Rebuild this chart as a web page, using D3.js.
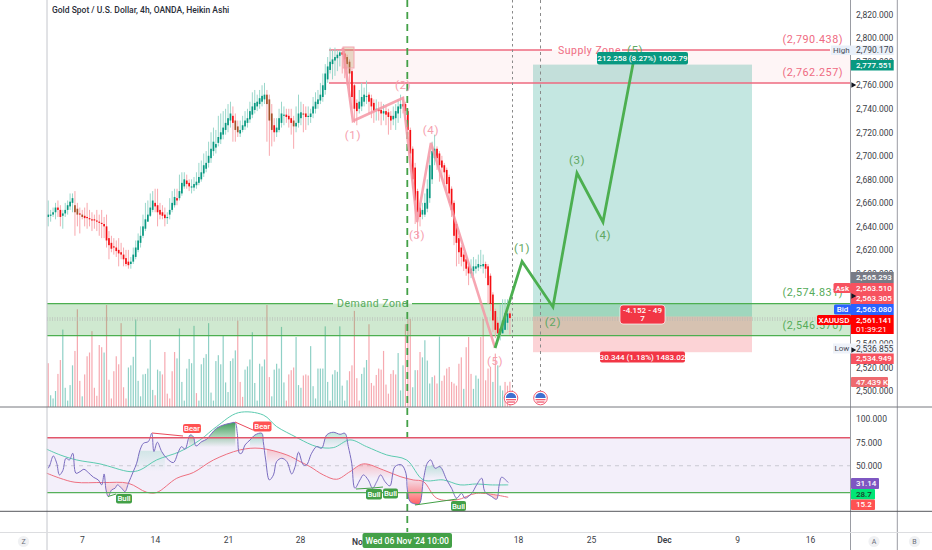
<!DOCTYPE html>
<html>
<head>
<meta charset="utf-8">
<script src="https://cdnjs.cloudflare.com/ajax/libs/d3/7.8.5/d3.min.js"></script>
<style>
html, body { margin:0; padding:0; background:#fff; overflow:hidden; }
svg { display:block; font-family:Roboto, Inter, "Noto Sans", sans-serif; }
.tick line, .domain { display:none; }
</style>
</head>
<body>
<svg id="chart" width="932" height="550"></svg>
<script>
// Heikin Ashi candles, one value per 4h bar
var candleOpen = [
	2648,2649,2650,2652,2656,2654,2649,2651,2654,2657,
	2660,2658,2655,2651,2650,2649,2648,2647,2646,2646,
	2645,2644,2643,2642,2640,2630,2626,2623,2622,2620,
	2618,2616,2613,2610,2608,2610,2614,2620,2626,2632,
	2638,2644,2649,2654,2660,2658,2654,2652,2650,2647,
	2650,2654,2658,2664,2664,2668,2674,2679,2677,2673,
	2673,2675,2677,2680,2685,2689,2694,2698,2704,2707,
	2711,2714,2718,2722,2726,2730,2734,2730,2725,2719,
	2722,2725,2728,2731,2735,2739,2742,2744,2746,2748,
	2752,2748,2736,2726,2720,2722,2728,2734,2735,2734,
	2732,2730,2725,2728,2732,2736,2736,2733,2733,2736,
	2740,2744,2747,2750,2756,2765,2773,2778,2781,2783,
	2785,2788,2787,2784,2780,2772,2760,2745,2740,2742,
	2746,2750,2752,2749,2745,2740,2740,2739,2736,2738,
	2737,2734,2731,2732,2736,2740,2744,2744,2738,2722,
	2706,2690,2670,2656,2650,2650,2655,2664,2680,2698,
	2706,2702,2696,2692,2688,2682,2672,2660,2642,2630,
	2622,2616,2612,2606,2600,2602,2604,2605,2607,2606,
	2608,2606,2598,2582,2568,2558,2548,2549,2552,2558,
	2566]
var candleClose = [
	2650,2650,2652,2656,2654,2648,2651,2654,2658,2661,
	2664,2652,2650,2650,2648,2647,2647,2646,2645,2645,
	2644,2643,2642,2640,2628,2624,2621,2622,2619,2617,
	2616,2612,2608,2607,2610,2616,2622,2628,2632,2640,
	2646,2650,2656,2662,2657,2652,2650,2649,2647,2648,
	2654,2660,2665,2662,2670,2677,2680,2676,2674,2674,
	2676,2678,2682,2686,2692,2694,2700,2706,2712,2710,
	2716,2720,2724,2728,2732,2736,2728,2722,2720,2722,
	2726,2730,2732,2738,2742,2745,2746,2749,2751,2752,
	2744,2730,2722,2720,2724,2732,2736,2735,2733,2731,
	2728,2725,2728,2736,2737,2735,2733,2734,2736,2742,
	2746,2748,2752,2760,2770,2776,2780,2782,2784,2786,
	2788,2786,2782,2778,2770,2750,2740,2738,2746,2750,
	2752,2751,2746,2742,2738,2740,2738,2736,2738,2735,
	2733,2730,2734,2738,2742,2744,2742,2738,2722,2702,
	2680,2662,2652,2648,2654,2660,2672,2692,2704,2706,
	2698,2692,2690,2686,2676,2668,2654,2632,2626,2618,
	2614,2610,2604,2600,2604,2606,2606,2608,2607,2608,
	2604,2590,2574,2560,2552,2549,2553,2560,2566,2566,
	2562]
var candleHigh = [
	2662,2654,2656,2660,2662,2658,2654,2660,2662,2668,
	2668,2670,2660,2656,2654,2656,2660,2654,2652,2650,
	2654,2650,2654,2648,2650,2636,2632,2630,2628,2630,
	2626,2622,2620,2620,2614,2622,2628,2634,2640,2650,
	2660,2662,2668,2670,2672,2672,2660,2658,2656,2652,
	2664,2670,2672,2672,2684,2686,2686,2684,2680,2680,
	2682,2686,2694,2696,2702,2704,2712,2720,2724,2722,
	2734,2736,2738,2740,2744,2746,2742,2736,2730,2730,
	2734,2738,2740,2746,2754,2756,2752,2756,2760,2762,
	2756,2752,2744,2732,2732,2740,2746,2742,2740,2740,
	2740,2734,2742,2752,2746,2744,2742,2742,2740,2750,
	2754,2756,2762,2770,2778,2784,2792,2790,2792,2790,
	2790,2792,2790,2786,2782,2774,2762,2748,2756,2762,
	2758,2764,2754,2752,2748,2748,2746,2746,2744,2742,
	2740,2738,2742,2744,2748,2752,2750,2746,2740,2724,
	2708,2694,2672,2658,2660,2668,2680,2700,2712,2718,
	2708,2704,2700,2694,2690,2684,2674,2662,2644,2632,
	2624,2618,2614,2608,2612,2614,2612,2616,2620,2616,
	2610,2608,2600,2584,2570,2560,2574,2578,2578,2578,
	2568]
var candleLow = [
	2640,2644,2648,2646,2648,2640,2638,2648,2650,2654,
	2652,2632,2640,2634,2646,2640,2638,2640,2636,2638,
	2636,2632,2630,2630,2622,2612,2618,2616,2614,2606,
	2612,2606,2606,2604,2604,2608,2612,2618,2622,2630,
	2636,2644,2648,2652,2652,2640,2646,2646,2640,2642,
	2646,2652,2656,2658,2662,2666,2672,2672,2670,2668,
	2670,2672,2675,2678,2682,2686,2690,2694,2700,2702,
	2708,2710,2714,2718,2720,2724,2712,2712,2716,2716,
	2720,2722,2724,2728,2732,2736,2738,2740,2742,2744,
	2712,2700,2708,2712,2716,2720,2724,2726,2728,2724,
	2718,2706,2720,2724,2726,2720,2722,2726,2728,2732,
	2736,2740,2744,2746,2752,2762,2770,2765,2768,2772,
	2776,2770,2766,2760,2750,2740,2728,2726,2736,2738,
	2742,2744,2736,2732,2728,2730,2730,2726,2730,2726,
	2718,2722,2726,2722,2728,2732,2736,2730,2718,2698,
	2672,2642,2630,2640,2646,2648,2652,2660,2676,2692,
	2688,2678,2680,2676,2670,2660,2648,2624,2606,2608,
	2606,2602,2598,2590,2596,2598,2600,2602,2604,2600,
	2596,2574,2568,2550,2545,2549,2543,2549,2552,2552,
	2548]
var brownBars = [11,12,14,77,78,90,91,92,101,105,123,124]

// Volume in thousands, and 1 for a teal bar, 0 for a red one
var volumeK = [
	82,22,16,30,62,88,145,36,12,41,
	78,105,183,49,20,61,95,102,142,36,
	21,116,112,102,191,51,16,67,95,80,
	157,37,16,74,78,94,164,49,20,61,
	62,72,126,32,22,70,67,61,103,25,
	16,67,103,91,147,47,12,72,90,82,
	152,26,12,80,92,99,157,27,12,86,
	97,80,134,46,28,86,91,106,162,47,
	19,70,76,89,140,45,12,81,76,89,
	191,56,20,70,81,72,150,46,12,61,
	69,74,131,41,36,59,61,59,114,39,
	16,72,72,72,151,47,12,61,69,66,
	151,40,12,50,67,78,180,54,12,62,
	74,88,155,45,40,60,72,70,105,42,
	25,62,69,61,101,
	31,78,155,165,165,37,69,69,103,93,
	125,87,44,56,59,44,132,49,59,72,
	75,47,44,40,81,93,34,112,131,62,
	34,59,53,131,165,50,72,75,47,100,
	78,40,31,47,40,47.4]
var volumeUp = [
	0,1,1,1,0,0,1,1,1,1,
	1,0,0,0,1,0,0,0,0,0,
	0,0,0,1,0,0,0,0,0,0,
	0,0,0,1,1,1,1,1,1,1,
	1,1,1,1,0,1,1,0,0,0,
	0,0,0,1,1,1,1,1,1,1,
	1,0,1,1,1,1,1,1,1,1,
	1,1,1,1,1,1,1,1,0,0,
	0,1,1,1,1,1,1,1,1,1,
	0,0,1,1,1,1,1,1,0,0,
	0,0,1,1,1,0,0,0,1,1,
	1,1,1,1,1,1,1,1,1,1,
	1,1,1,1,0,0,0,0,0,1,
	1,1,0,0,0,0,0,0,0,0,
	0,0,0,0,1,
	1,1,0,0,0,1,1,0,0,1,
	1,1,1,1,0,0,1,0,0,0,
	0,0,0,0,0,0,1,0,0,0,
	1,1,1,0,0,0,0,0,1,0,
	1,1,1,0,0,0]

// RSI pane, as bar positions and values
var rsiBars = [0,0.7,2.1,3.5,4.6,6,7.3,8.7,10.1,11.4,13.1,14.7,16.5,18.6,20.6,22,23,23.8,24.7,26.1,27.5,28.5,30.2,31.6,33,35,36.4,37.8,39.2,41.2,42.6,43.5,44.9,46.7,48.8,51.5,53.6,54.9,56.3,58.4,59.7,60.8,63.2,65.2,67.3,69.3,72.1,74.8,76.9,77.8,78.7,79.6,81,83.1,85.1,87.9,88.5,89.5,91,92.7,94,96.1,98.2,100.2,101.6,103,105,106.3,108.4,110.5,112.5,114.6,117.3,120.1,122.1,123.5,124.9,126.2,128.3,129.7,131.7,133.5,135.2,136.8,138.6,140.6,142.7,145.4,147.2,147.8,148.9,150.9,152.7,154.4,156,157.4,159.2,161.2,164,166,168.1,170.1,171.5,174.3,176.3,178.4,179.7,182.5,184.5,185.6,186.6,189.3]
var rsiValues = [47.3,50.9,60.5,52.7,40.2,44.8,58,56.2,63.4,42,43.7,46.2,42.7,37.7,34.8,29.5,41.2,24.1,17,24.1,25.9,29.5,25.9,22.3,31.2,43.7,52.7,67,74.1,75.9,84.8,65.2,75.2,65.2,58,53.4,65.2,70.5,67.7,83,81.2,71.2,75.9,78.4,84.8,90.2,93.7,95.5,96.2,84.8,63.4,63.4,72.3,77.7,83,84.8,75.9,56.2,34.8,40.2,54.5,58,54.5,41.2,49.1,64.5,50.9,50.9,63.4,70.5,68.7,83,85.9,83.7,84.8,70.5,52.7,25.9,34.8,40.2,34.8,25.9,33,40.2,33,28.4,49.1,50.9,42,24.1,11.6,9.1,9.1,34.8,52.7,56.2,47.3,49.1,34.8,25.9,15.2,20.5,15.2,20.5,29.5,36.6,22.3,17,14.1,29.5,37.7,32]
var fastBars = [-0.6,4.9,11.7,21.3,33.7,37.8,44.6,54.2,62.5,69.3,78.3,88.5,94,101.6,103.6,110.5,117.3,124.2,131,139.3,147.5,154.4,162.6,169.5,176.3,181.8,189.3]
var fastValues = [67.7,61.6,56.2,52,43.7,45.5,56.2,65.2,77.7,92,106.9,104.4,92,81.2,78.4,70.5,69.4,77.7,70.5,61.6,56.2,34.8,34.8,29.5,30.5,29.5,29.5]
var slowBars = [-0.6,4.9,11,22.7,33,40.5,44.6,52.9,59.7,68,79,87.2,98.2,103.6,107.7,113.2,118.7,124.2,129.7,137.9,144.8,150.2,154.4,159.9,168.1,176.3,189.3]
var slowValues = [42,36.6,32.3,32,31.2,21.6,21.3,36.6,42.7,56.2,67,68.7,61.6,54.5,49.1,40.2,35.5,43.7,52,45.5,38.4,34.8,33,15.2,13.4,20.5,16.2]

// Shaded stretches of the RSI pane: bar range, value range, strongest opacity
var greenStart = [35, 58, 83, 112, 155]
var greenEnd = [48, 77, 89, 124, 165]
var greenTop = [66, 97, 86, 87, 50]
var greenFloor = [44, 70, 70, 70, 36]
var greenOpacity = [0.2, 0.85, 0.55, 0.4, 0.3]
var redStart = [22.7, 90, 125, 148, 167, 180]
var redEnd = [32.5, 101.6, 146, 155, 175, 186]
var redTop = [32, 69, 53, 36, 22, 30]
var redFloor = [18, 52, 36, 8, 13, 13]
var redOpacity = [0.22, 0.28, 0.28, 0.9, 0.3, 0.35]
var redStrongAtFloor = [1, 0, 0, 1, 1, 1]

// Drawn wave counts
var sellWaveBars = [121.3,125.4,146,151.8,157.5,183.9]
var sellWavePrices = [2791.7,2729.6,2749.2,2643.7,2710.9,2536.6]
var sellWaveLabels = ['(1)','(2)','(3)','(4)','(5)']
var buyWaveBars = [183.9,195,207.7,217.6,228.3,241.5]
var buyWavePrices = [2536.6,2610.2,2571.5,2685.4,2643.7,2787.4]
var buyWaveLabels = ['(1)','(2)','(3)','(4)','(5)']

// Axis labels
var priceTicks = [2820,2800,2780,2760,2740,2720,2700,2680,2660,2640,2620,2600,2540,2520,2500]
var rsiTicks = [100,75,50]
var timeTickBars = [13.9,43.9,74,103.6,193.3,223.4,253.4,283.5,313.5]
var timeTickLabels = ['7','14','21','28','18','25','Dec','9','16']

var width = 932, plotLeft = 47, plotRight = 850.5, barStep = 2.43
var axisFont = 8.5, tagFont = 8
var svg = d3.select('#chart')

var x = d3.scaleLinear().domain([0, 1]).range([plotLeft + barStep / 2, plotLeft + barStep * 1.5])
var y = d3.scaleLinear().domain([2500, 2820]).range([391, 14.7])
var yVolume = d3.scaleLinear().domain([0, 191]).range([407, 305])
var yRsi = d3.scaleLinear().domain([0, 100]).range([512.4, 419.1])

var barIndex = d3.range(candleClose.length)

function addRect(x1, y1, x2, y2, fill) {
	return svg.append('rect').attr('x', x1).attr('y', y1)
		.attr('width', x2 - x1).attr('height', y2 - y1).attr('fill', fill)
}
function addLine(x1, y1, x2, y2, stroke, sw, dash) {
	return svg.append('line').attr('x1', x1).attr('y1', y1).attr('x2', x2).attr('y2', y2)
		.attr('stroke', stroke).attr('stroke-width', sw).attr('stroke-dasharray', dash || null)
}
function addText(tx, ty, str, fill, size, anchor, weight) {
	return svg.append('text').attr('x', tx).attr('y', ty).text(str)
		.attr('fill', fill).attr('font-size', size)
		.attr('text-anchor', anchor || 'start').attr('font-weight', weight || 400)
		.attr('dominant-baseline', 'central')
}
function addTag(x1, y1, x2, y2, fill, label, color, size) {
	addRect(x1, y1, x2, y2, fill).attr('rx', 2)
	return addText((x1 + x2) / 2, (y1 + y2) / 2, label, color || '#fff', size || tagFont, 'middle', 500)
}

// Volume
svg.append('g').selectAll('rect').data(volumeK).enter().append('rect')
	.attr('x', function(d, i) {return x(i) - 0.6})
	.attr('y', function(d) {return yVolume(d)})
	.attr('width', 1.2)
	.attr('height', function(d) {return 407 - yVolume(d)})
	.attr('fill', function(d, i) {return volumeUp[i] ? '#8fd0c6' : '#f6a9b0'})

// Zones
var demandTop = y(2574.831) + 0.6, demandBottom = y(2546.57) - 0.6
addRect(329, 50, plotRight, 83, 'rgba(242,54,69,0.05)')
addRect(plotLeft, demandTop, plotRight, demandBottom, 'rgba(76,175,80,0.27)')

// Long position box
var longLeft = 533, longRight = 752
addRect(longLeft, y(2777.551), longRight, y(2563.3), 'rgba(8,153,129,0.24)')
addRect(longLeft, y(2563.3), longRight, y(2533), 'rgba(242,54,69,0.22)')

// Level lines
addLine(plotLeft, 318, plotRight, 318, '#b5b5b5', 1, '1 1.5')
addLine(plotLeft, 320, plotRight, 320, '#b5b5b5', 1, '1 1.5')
addLine(329, 50, 552, 50, '#ee6a7f', 1.3)
addLine(622, 50, 830, 50, '#ee6a7f', 1.3)
addLine(329, 83, plotRight, 83, '#ee6a7f', 1.3)
addLine(plotLeft, demandTop, 333, demandTop, '#4caf50', 1.3)
addLine(412, demandTop, plotRight, demandTop, '#4caf50', 1.3)
addLine(plotLeft, demandBottom, plotRight, demandBottom, '#4caf50', 1.3)

addText(558, 50, 'Supply Zone', '#ef6b82', 10.5).attr('letter-spacing', 0.5)
addText(337, 303, 'Demand Zone', '#56ab5a', 10.5).attr('letter-spacing', 0.5)
addText(843, 39, '(2,790.438)', '#ef6b82', 10.8, 'end').attr('letter-spacing', 0.5)
addText(843, 72, '(2,762.257)', '#ef6b82', 10.8, 'end').attr('letter-spacing', 0.5)
addText(843, 292, '(2,574.831)', '#56ab5a', 10.8, 'end').attr('letter-spacing', 0.5)
addText(843, 325.5, '(2,546.570)', '#56ab5a', 10.8, 'end').attr('letter-spacing', 0.5)

// Candles
var isBrown = {}
brownBars.map(function(b) {isBrown[b] = true})
function isUp(i) {return candleClose[i] >= candleOpen[i]}

svg.append('g').selectAll('line').data(barIndex).enter().append('line')
	.attr('x1', function(i) {return x(i)}).attr('x2', function(i) {return x(i)})
	.attr('y1', function(i) {return y(candleHigh[i])}).attr('y2', function(i) {return y(candleLow[i])})
	.attr('stroke', function(i) {return isUp(i) ? '#9ad7cb' : '#f8a8ae'})
	.attr('stroke-width', 1)

svg.append('g').selectAll('rect').data(barIndex).enter().append('rect')
	.attr('x', function(i) {return x(i) - 0.85})
	.attr('width', 1.7)
	.attr('y', function(i) {return y(Math.max(candleOpen[i], candleClose[i]))})
	.attr('height', function(i) {return Math.max(1, Math.abs(y(candleOpen[i]) - y(candleClose[i])))})
	.attr('fill', function(i) {
		if(isBrown[i]) return '#a5522a'
		return isUp(i) ? '#089981' : '#f50f14'
	})

// Peak marker box
addRect(343, 47, 354, 68, 'rgba(190,150,90,0.32)').attr('stroke', '#f3a6b0').attr('stroke-width', 1)

// Event lines
addLine(407.3, 0, 407.3, 532, '#43a047', 1.8, '7 5')
addLine(512.5, 0, 512.5, 392, '#8a8a8a', 1, '2.5 3')
addLine(540.5, 0, 540.5, 392, '#8a8a8a', 1, '3 3.5')

// Wave counts
var waveLine = d3.line()
	.x(function(d) {return x(d[0])})
	.y(function(d) {return y(d[1])})

svg.append('path').attr('d', waveLine(d3.zip(sellWaveBars, sellWavePrices)))
	.attr('fill', 'none').attr('stroke', 'rgba(245,150,165,0.85)').attr('stroke-width', 2.6)
var sellLabelDy = [14, -13, 13, -13, 13]
sellWaveLabels.map(function(t, i) {
	addText(x(sellWaveBars[i + 1]), y(sellWavePrices[i + 1]) + sellLabelDy[i], t, '#f6a0ae', 11.5, 'middle').attr('letter-spacing', 0.6)
})

svg.append('path').attr('d', waveLine(d3.zip(buyWaveBars, buyWavePrices)))
	.attr('fill', 'none').attr('stroke', '#4caf50').attr('stroke-width', 2.8)
var buyLabelDy = [-13, 15, -13, 13, -3]
buyWaveLabels.map(function(t, i) {
	addText(x(buyWaveBars[i + 1]), y(buyWavePrices[i + 1]) + buyLabelDy[i], t, '#5fa863', 11.5, 'middle').attr('letter-spacing', 0.6)
})

// Position labels
addTag(597, 52, 688, 64.5, '#089981', '212.258 (8.27%) 1602.79')
addRect(620, 305, 665, 324, '#f23645').attr('rx', 3).attr('stroke', '#fff').attr('stroke-width', 0.7)
addText(642.5, 310.5, '-4.152 - 49', '#fff', tagFont, 'middle', 500)
addText(642.5, 318.5, '7', '#fff', tagFont, 'middle', 500)
addTag(600, 351.5, 685, 362.5, '#f23645', '30.344 (1.18%) 1483.02')

// Economic event flags
;[511, 540.5].map(function(fx) {
	var g = svg.append('g').attr('transform', 'translate(' + fx + ',398)')
	g.append('circle').attr('r', 6.8).attr('fill', '#fff').attr('stroke', '#f25c72').attr('stroke-width', 1)
	g.append('path').attr('d', d3.arc()({innerRadius:0, outerRadius:5.2, startAngle:-Math.PI / 2, endAngle:Math.PI / 2})).attr('fill', '#3f6fd1')
	g.append('rect').attr('x', -5).attr('y', 1).attr('width', 10).attr('height', 1.3).attr('fill', '#f25c72')
	g.append('rect').attr('x', -4).attr('y', 3.4).attr('width', 8).attr('height', 1.3).attr('fill', '#f25c72')
})

// Title
addText(52, 10, 'Gold Spot / U.S. Dollar, 4h, OANDA, Heikin Ashi', '#2a2e39', 8.5, 'start', 500)

// RSI pane
addRect(plotLeft, yRsi(80), plotRight, 492.7, '#f3effa')
addLine(plotLeft, yRsi(50), plotRight, yRsi(50), '#c9c9d2', 1, '4 4')

var rsiPts = d3.zip(rsiBars, rsiValues)
var rsiCurve = d3.curveCatmullRom.alpha(0.5)
function paneLine(pts) {
	return d3.line().curve(rsiCurve).x(function(d) {return x(d[0])}).y(function(d) {return yRsi(d[1])})(pts)
}
function paneArea(pts, edge) {
	return d3.area().curve(rsiCurve).x(function(d) {return x(d[0])}).y0(edge).y1(function(d) {return yRsi(d[1])})(pts)
}

var defs = svg.append('defs')
defs.append('clipPath').attr('id', 'belowSlow').append('path').attr('d', paneArea(d3.zip(slowBars, slowValues), 520))

// One gradient and one clip box per shaded stretch
function addPatch(id, start, end, top, floor, color, topOpacity, floorOpacity, edge) {
	var grad = defs.append('linearGradient').attr('id', id + 'Fade').attr('gradientUnits', 'userSpaceOnUse')
		.attr('x1', 0).attr('x2', 0).attr('y1', yRsi(top)).attr('y2', yRsi(floor))
	grad.append('stop').attr('offset', 0).attr('stop-color', color).attr('stop-opacity', topOpacity)
	grad.append('stop').attr('offset', 1).attr('stop-color', color).attr('stop-opacity', floorOpacity)
	defs.append('clipPath').attr('id', id + 'Box').append('rect')
		.attr('x', x(start)).attr('width', x(end) - x(start))
		.attr('y', yRsi(top)).attr('height', yRsi(floor) - yRsi(top))
	return svg.append('g').attr('clip-path', 'url(#' + id + 'Box)').append('path')
		.attr('d', paneArea(rsiPts, edge)).attr('fill', 'url(#' + id + 'Fade)')
}
greenStart.map(function(s, i) {
	addPatch('green' + i, s, greenEnd[i], greenTop[i], greenFloor[i], i == 1 ? '#1b8a3c' : '#4cc09a', greenOpacity[i], 0, 520)
})
var redLayer = svg.append('g').attr('clip-path', 'url(#belowSlow)')
redStart.map(function(s, i) {
	var strong = redOpacity[i]
	var patch = addPatch('red' + i, s, redEnd[i], redTop[i], redFloor[i], '#ff4a4f',
		redStrongAtFloor[i] ? 0.1 : strong, redStrongAtFloor[i] ? strong : 0, 400)
	redLayer.node().appendChild(patch.node().parentNode)
})

svg.append('path').attr('d', paneLine(d3.zip(fastBars, fastValues))).attr('fill', 'none').attr('stroke', '#5ccbb0').attr('stroke-width', 1)
svg.append('path').attr('d', paneLine(d3.zip(slowBars, slowValues))).attr('fill', 'none').attr('stroke', '#ee7080').attr('stroke-width', 1)
svg.append('path').attr('d', paneLine(rsiPts)).attr('fill', 'none').attr('stroke', '#7a6cc0').attr('stroke-width', 1)

addLine(plotLeft, yRsi(80), plotRight, yRsi(80), '#e2566a', 1.3)
addLine(plotLeft, 492.7, plotRight, 492.7, '#56b05a', 1.3)

// Divergence lines and their tags
addLine(152, 433, 183, 436, '#ea4b5c', 1)
addLine(235, 422, 253, 430, '#ea4b5c', 1)
addLine(108, 496.5, 116, 494, '#43a047', 1)
addLine(356, 489, 373, 488, '#43a047', 1)
addLine(373, 488, 383, 487, '#43a047', 1)
addLine(415, 505, 457, 499, '#43a047', 1)
addTag(183, 424, 201, 433, '#ff5252', 'Bear', '#fff', 7.8)
addTag(253, 421.5, 271.5, 431.5, '#ff5252', 'Bear', '#fff', 7.8)
addTag(116, 494, 132, 503.5, '#43a047', 'Bull', '#fff', 7.8)
addTag(366, 489, 382, 499.5, '#43a047', 'Bull', '#fff', 7.8)
addTag(383, 488.5, 398, 498.5, '#43a047', 'Bull', '#fff', 7.8)
addTag(451, 501, 466, 511, '#43a047', 'Bull', '#fff', 7.8)

// Frame
addLine(plotLeft, 0, plotLeft, 550, '#c4c6cc', 1)
addLine(plotRight, 0, plotRight, 550, '#9a9ca3', 1)
addLine(897.3, 0, 897.3, 550, '#9a9ca3', 1)
addLine(0, 407, width, 407, '#77797f', 1)
addLine(0, 511.3, width, 511.3, '#55575c', 1)
addLine(0, 532.5, width, 532.5, '#dcdde0', 1)

// Axes
var axisFamily = 'Roboto, Inter, sans-serif'
var priceAxis = svg.append('g').attr('transform', 'translate(' + plotRight + ',0)')
	.call(d3.axisRight(y).tickValues(priceTicks).tickSize(0).tickPadding(5.5).tickFormat(d3.format(',.3f')))
priceAxis.selectAll('text').attr('fill', '#3b3e47').attr('font-size', axisFont).style('font-family', axisFamily)

var rsiAxis = svg.append('g').attr('transform', 'translate(' + plotRight + ',0)')
	.call(d3.axisRight(yRsi).tickValues(rsiTicks).tickSize(0).tickPadding(5.5).tickFormat(d3.format('.3f')))
rsiAxis.selectAll('text').attr('fill', '#3b3e47').attr('font-size', axisFont).style('font-family', axisFamily)

var timeAxis = svg.append('g').attr('transform', 'translate(0,532)')
	.call(d3.axisBottom(x).tickValues(timeTickBars).tickSize(0).tickPadding(5).tickFormat(function(d, i) {return timeTickLabels[i]}))
timeAxis.selectAll('text').attr('fill', '#3b3e47').attr('font-size', axisFont)
	.attr('font-weight', function(d, i) {return timeTickLabels[i] == 'Dec' ? 600 : 400})
	.style('font-family', axisFamily)

addText(352, 541.5, 'No', '#3b3e47', axisFont, 'start', 600)
addTag(362.5, 533, 452, 548, '#43a047', "Wed 06 Nov '24   10:00", '#fff', 8.6)

// Price labels on the axis
var tagLeft = 851, tagRight = 893.7
function priceTag(y1, y2, fill, label, color) {
	addRect(tagLeft, y1, tagRight, y2, fill)
	return addText(856, (y1 + y2) / 2, label, color || '#fff', tagFont, 'start', 500)
}
function sideTag(x1, y1, y2, fill, label, color) {
	addRect(x1, y1, tagLeft, y2, fill).attr('rx', 1.5)
	addText((x1 + tagLeft) / 2, (y1 + y2) / 2, label, color || '#fff', tagFont, 'middle', 500)
}
addRect(831, 45.5, tagRight, 55, '#e9f0f9')
addText(833, 50.3, 'High', '#4a4e59', tagFont, 'start', 400)
addText(856, 50.3, '2,790.170', '#3b3e47', axisFont)

priceTag(60, 70.5, '#089981', '2,777.551')
priceTag(272, 283, '#787b86', '2,565.293')
sideTag(833.5, 283, 293, '#f7525f', 'Ask')
priceTag(283, 293, '#f7525f', '2,563.510')
priceTag(293, 304, '#f7525f', '2,563.305')
sideTag(834, 304.5, 314.5, '#2962ff', 'Bid')
priceTag(304, 315, '#2962ff', '2,563.080')
sideTag(817, 315, 325, '#ff0000', 'XAUUSD')
priceTag(315, 334, '#ff0000', '2,561.141').attr('y', 320)
addText(856, 329, '01:39:21', '#fff', tagFont, 'start', 400)

addRect(833, 343.5, tagRight, 353.5, '#eef2f9')
addText(834.5, 348.5, 'Low', '#4a4e59', tagFont, 'start', 400)
addText(856, 348.5, '2,536.855', '#3b3e47', axisFont)
priceTag(353.5, 364, '#f7525f', '2,534.949')
addRect(tagLeft, 377, 888, 387, '#ee6a6f').attr('rx', 1)
addText(856, 382, '47.439 K', '#fff', tagFont, 'start', 500)

// RSI labels on the axis
function rsiTag(x2, y1, y2, fill, label, color) {
	addRect(tagLeft, y1, x2, y2, fill).attr('rx', 1)
	addText(856, (y1 + y2) / 2, label, color || '#fff', tagFont, 'start', 500)
}
rsiTag(879, 478, 489, '#7e57c2', '31.14')
rsiTag(875, 489, 499.5, '#00e676', '28.7', '#1d3b2a')
rsiTag(875, 499.5, 510, '#ff5252', '15.2')

// Axis markers
var marker = d3.symbol().type(d3.symbolTriangle).size(14)
;[85, 296, 350].map(function(my) {
	svg.append('path').attr('d', marker()).attr('fill', '#131722')
		.attr('transform', 'translate(853,' + my + ') rotate(90)')
})

// Corner buttons
;[[23.5, 'Z'], [874, 'A'], [914.5, 'B']].map(function(b) {
	svg.append('circle').attr('cx', b[0]).attr('cy', 541.5).attr('r', 5.6).attr('fill', '#f0f1f3')
	addText(b[0], 541.5, b[1], '#6a6d78', 7, 'middle')
})
</script>
</body>
</html>
